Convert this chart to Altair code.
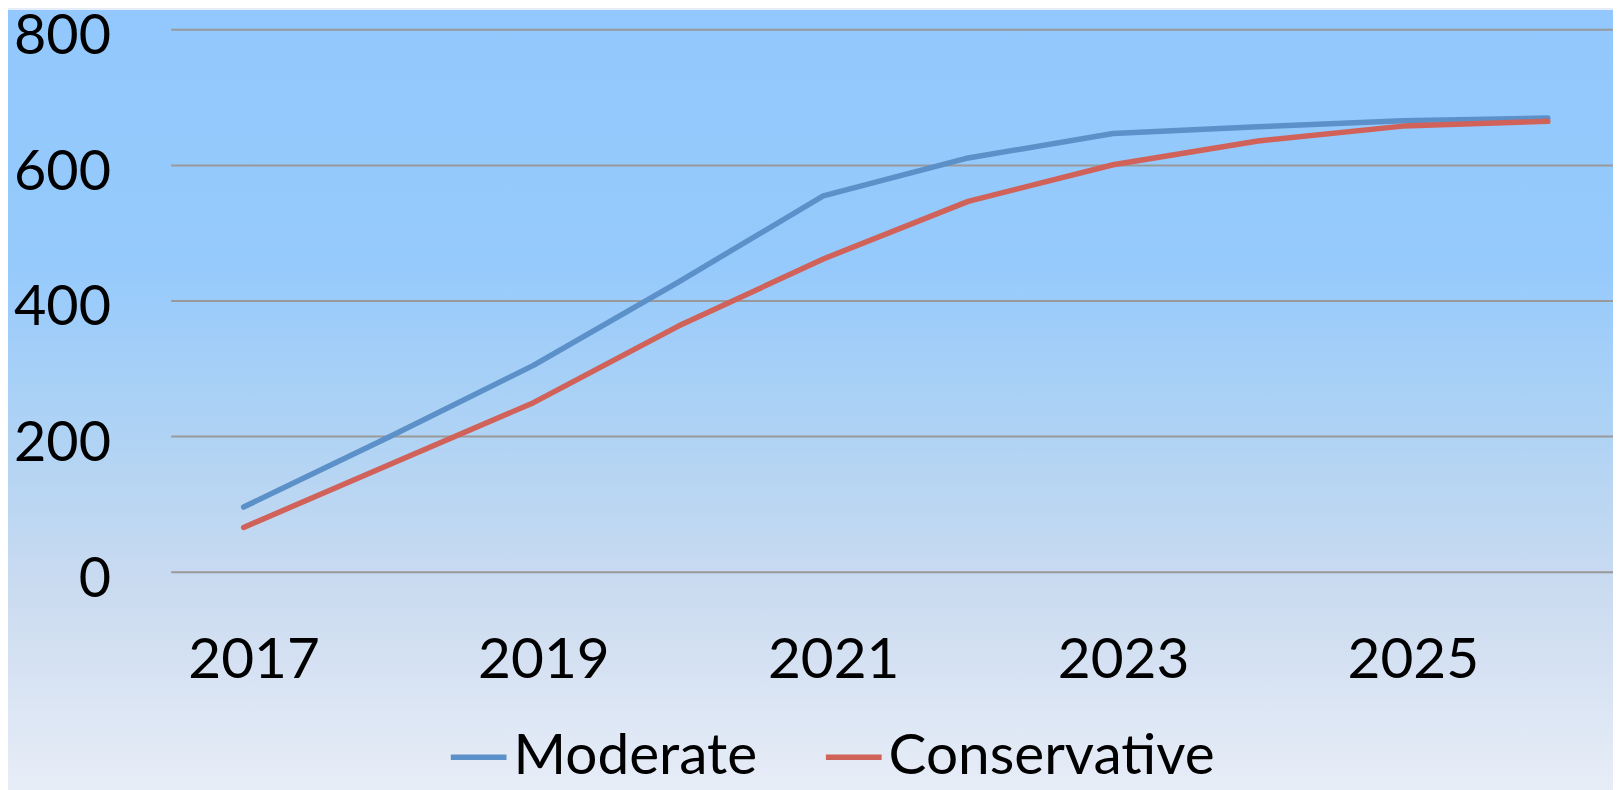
import altair as alt
import pandas as pd

years = [2017, 2018, 2019, 2020, 2021, 2022, 2023, 2024, 2025, 2026]
moderate = [96, 199, 305, 428, 555, 611, 647, 657, 666, 670]
conservative = [66, 158, 250, 363, 462, 547, 601, 636, 658, 665]
series_names = ["Moderate", "Conservative"]
series_colors = ["#5B90C8", "#D0625A"]
y_ticks = [0, 200, 400, 600, 800]
x_ticks = [2017, 2019, 2021, 2023, 2025]

rows = []
for y, m, c in zip(years, moderate, conservative):
    rows.append({"year": y, "value": m, "series": "Moderate"})
    rows.append({"year": y, "value": c, "series": "Conservative"})
df = pd.DataFrame(rows)
grid_df = pd.DataFrame({"value": y_ticks})

W, H = 1449, 545
PL, PT, PB, PR = 164, 20, 217, 0
FONT = "Lato"

x_scale = alt.Scale(domain=[2016.5, 2026.45], nice=False, zero=False)
y_scale = alt.Scale(domain=[0, 800], nice=False)

y_axis = alt.Axis(values=y_ticks, title=None, grid=False,
                  domain=False, ticks=False, tickSize=0, zindex=1,
                  labelFont=FONT, labelFontSize=56, labelColor="#000000",
                  labelPadding=61, labelOffset=7, labelFlush=False)

bg = alt.Chart(pd.DataFrame({"a": [0]})).mark_rect(
    color=alt.Gradient(
        gradient="linear",
        stops=[
            alt.GradientStop(color="#92C8FD", offset=0),
            alt.GradientStop(color="#96CAFC", offset=0.33),
            alt.GradientStop(color="#B0D3F4", offset=0.55),
            alt.GradientStop(color="#CBDBF0", offset=0.75),
            alt.GradientStop(color="#E7EDF7", offset=1),
        ],
        x1=0, x2=0, y1=0, y2=1,
    )
).encode(
    x=alt.value(-PL), x2=alt.value(W + PR), y=alt.value(-PT), y2=alt.value(H + PB)
)

grid = alt.Chart(grid_df).mark_rule(color="#999999", strokeWidth=2).encode(
    y=alt.Y("value:Q", scale=y_scale, axis=y_axis),
    x=alt.value(0), x2=alt.value(W + PR),
)

lines = alt.Chart(df).mark_line(strokeWidth=5.5, strokeCap="round", strokeJoin="round").encode(
    x=alt.X("year:Q", scale=x_scale,
            axis=alt.Axis(values=x_ticks, format="d", title=None, grid=False,
                          domain=False, ticks=False, tickSize=0, zindex=1,
                          labelFont=FONT, labelFontSize=57, labelColor="#000000",
                          labelBaseline="alphabetic", labelPadding=106,
                          labelOffset=10, labelFlush=False)),
    y=alt.Y("value:Q", scale=y_scale, axis=y_axis),
    color=alt.Color("series:N",
                    scale=alt.Scale(domain=series_names, range=series_colors),
                    sort=series_names,
                    legend=alt.Legend(title=None, orient="none", direction="horizontal",
                                      legendX=278, legendY=700,
                                      symbolType="stroke", symbolSize=3136,
                                      symbolStrokeWidth=5.5, labelFont=FONT,
                                      labelFontSize=57, labelColor="#000000",
                                      labelOffset=4, columnPadding=57,
                                      labelLimit=500)),
)

chart = alt.layer(bg, grid, lines).properties(
    width=W, height=H,
    padding={"left": PL, "top": PT, "right": PR, "bottom": PB},
    autosize=alt.AutoSizeParams(type="none"),
).configure_view(stroke=None).configure(background="#E7EDF7")

chart.save("out.html", embed_options={"renderer": "svg", "actions": False})
